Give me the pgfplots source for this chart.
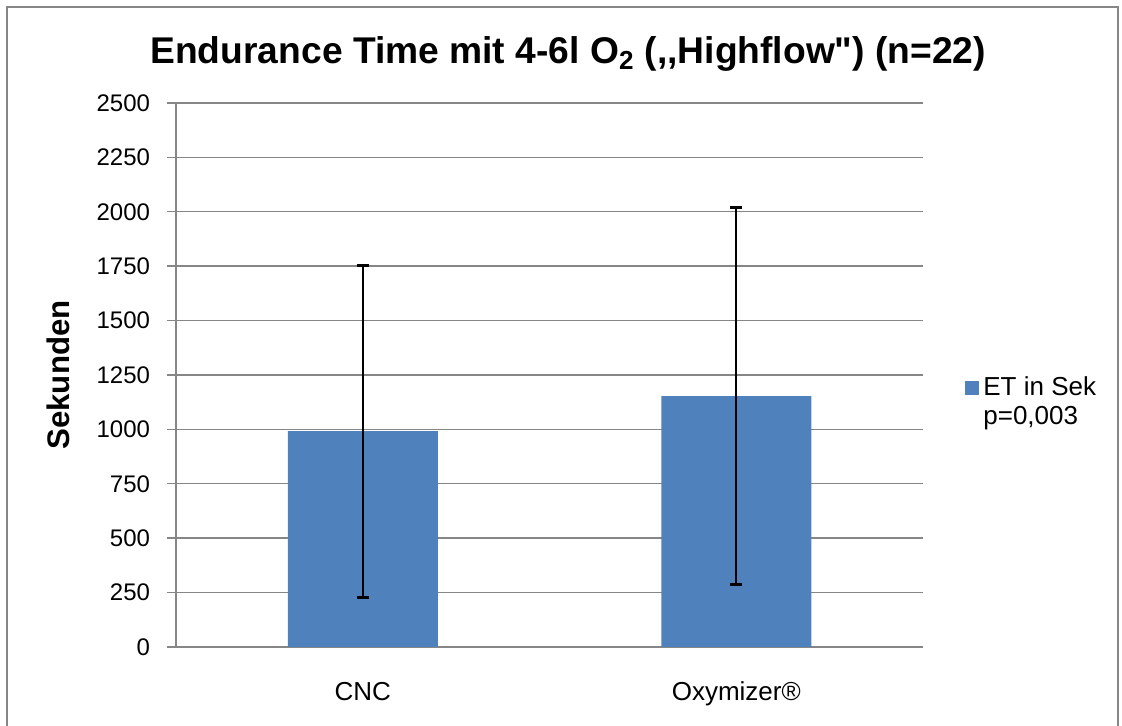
\documentclass[border=0pt]{standalone}
\usepackage{pgfplots}
\pgfplotsset{compat=1.18}
\usepackage{fontspec}
\setmainfont{Liberation Sans}
\definecolor{barblue}{HTML}{4F81BD}
\definecolor{gridgray}{HTML}{868686}

\begin{document}
\begin{tikzpicture}
\path[use as bounding box] (0,0) rectangle (561bp,363bp);
\draw[gridgray, line width=1bp] (3.5bp,-10bp) -- (3.5bp,359.5bp) -- (559bp,359.5bp) -- (559bp,-10bp);
\begin{axis}[
    at={(88bp,39.5bp)}, anchor=south west,
    scale only axis, width=373.5bp, height=272bp,
    xmin=-0.5, xmax=1.5,
    ymin=0, ymax=2500,
    ytick={0,250,...,2500},
    xtick={0,1},
    xticklabels={CNC, Oxymizer®},
    major x tick style={draw=none},
    ymajorgrids=true,
    grid style={gridgray, line width=0.7bp},
    axis x line*=bottom, axis y line*=left,
    axis line style={gridgray, line width=0.8bp},
    y tick style={gridgray, line width=0.7bp},
    tick align=outside, major tick length=4.5bp,
    /pgf/number format/assume math mode=true,
    /pgf/number format/1000 sep={},
    yticklabel style={font=\fontsize{12bp}{14bp}\selectfont, xshift=-5bp},
    xticklabel style={font=\fontsize{13bp}{15bp}\selectfont, anchor=base, yshift=-22bp},
    title={Endurance Time mit 4-6l O\textsubscript{2} ({,}{,}Highflow\textquotedbl) (n=22)},
    title style={font=\bfseries\fontsize{18.6bp}{21bp}\selectfont, at={(0.525,1)}, anchor=base, yshift=14bp},
    ylabel={Sekunden},
    ylabel style={font=\bfseries\fontsize{15.6bp}{17bp}\selectfont, at={(axis description cs:-0.158,0.5)}, anchor=center},
    legend style={at={(1,0.45)}, anchor=west, xshift=18bp, draw=none, fill=none,
        font=\fontsize{13bp}{15bp}\selectfont, row sep=0bp},
    legend cell align=left,
]
\addplot[ybar, bar width=75bp, fill=barblue, draw=none,
    legend image code/.code={\fill[barblue] (0bp,-3.5bp) rectangle (7bp,3.5bp);},
    error bars/.cd, y dir=both, y explicit,
    error bar style={black, line width=1.2bp},
    error mark options={black, rotate=90, line width=1.5bp, mark size=3bp}]
    coordinates {(0,992) +- (0,763) (1,1153) +- (0,866)};
\addlegendentry{ET in Sek}
\addlegendimage{empty legend}
\addlegendentry{p=0,003}
\end{axis}
\end{tikzpicture}
\end{document}
